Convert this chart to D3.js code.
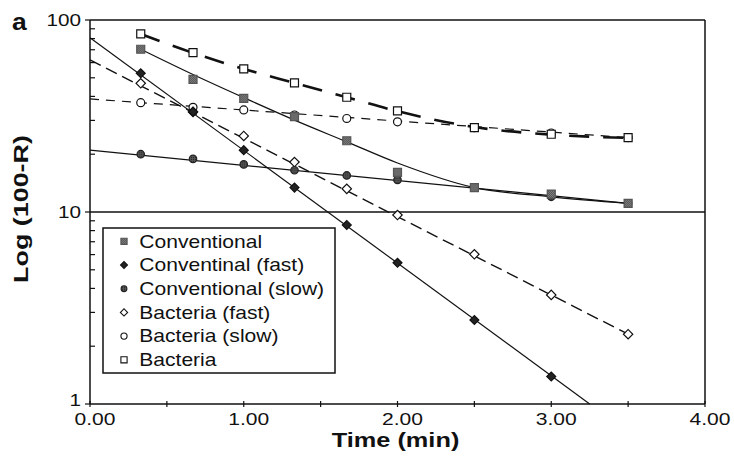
<!DOCTYPE html>
<html><head><meta charset="utf-8">
<script src="https://cdn.jsdelivr.net/npm/d3@7"></script>
<style>body{margin:0;background:#fff} svg{display:block}</style>
</head><body><svg id="c" width="734" height="464"></svg>
<script>
// ---- data ----
const times = [0.33, 0.67, 1.0, 1.33, 1.67, 2.0, 2.5, 3.0, 3.5];
const conventional     = [70.4, 49.1, 39.1, 31.4, 23.5, 16.1, 13.4, 12.4, 11.1];
const conventionalFast = [52.8, 33.3, 21.0, 13.4, 8.56, 5.44, 2.74, 1.39, null];
const conventionalSlow = [20.0, 18.9, 17.7, 16.5, 15.5, 14.7, 13.4, 12.0, 11.1];
const bacteriaFast     = [46.8, 33.2, 24.9, 18.2, 13.2, 9.64, 6.02, 3.70, 2.31];
const bacteriaSlow     = [37.1, 35.1, 34.0, 32.0, 30.7, 29.5, 27.5, 25.8, 24.4];
const bacteria         = [84.6, 67.6, 55.7, 47.1, 39.6, 33.6, 27.5, 25.4, 24.4];

// fitted lines
const convFitV     = [70.4, 52.0, 39.4, 30.1, 23.2, 18.0, 13.4, 12.0, 11.1];
const bactFitV     = [84.6, 67.4, 55.6, 47.0, 39.6, 33.5, 27.7, 25.3, 24.3];
const convFastFitT = [0, 3.25], convFastFitV = [80.9, 1.0];
const convSlowFitT = [0, 3.5],  convSlowFitV = [21.0, 11.1];
const bactFastFitT = [0, 3.5],  bactFastFitV = [61.9, 2.31];
const bactSlowFitT = [0, 3.5],  bactSlowFitV = [38.8, 24.4];

const xTickLabels = ["0.00", "1.00", "2.00", "3.00", "4.00"];
const yTickLabels = ["1", "10", "100"];
const legendLabels = ["Conventional", "Conventinal (fast)", "Conventional (slow)",
                      "Bacteria (fast)", "Bacteria (slow)", "Bacteria"];
const xTitle = "Time (min)", yTitle = "Log (100-R)", panelLabel = "a";

// ---- layout ----
const L = 90, R = 705, T = 20, B = 404;
const svg = d3.select("#c");
const x = d3.scaleLinear().domain([0, 4]).range([L, R]);
const y = d3.scaleLog().domain([1, 100]).range([B, T]);
const FONT = "'Liberation Sans', Arial, sans-serif";
const ink = "#111";

const defs = svg.append("defs");
const pat = defs.append("pattern").attr("id", "hatch").attr("width", 2).attr("height", 2)
  .attr("patternUnits", "userSpaceOnUse");
pat.append("rect").attr("width", 2).attr("height", 2).attr("fill", "#9a9a9a");
pat.append("rect").attr("width", 1).attr("height", 1).attr("fill", "#3a3a3a");
pat.append("rect").attr("x", 1).attr("y", 1).attr("width", 1).attr("height", 1).attr("fill", "#3a3a3a");
const pat2 = defs.append("pattern").attr("id", "hatch2").attr("width", 2).attr("height", 2)
  .attr("patternUnits", "userSpaceOnUse");
pat2.append("rect").attr("width", 2).attr("height", 2).attr("fill", "#555");
pat2.append("rect").attr("width", 1).attr("height", 1).attr("fill", "#222");

function stext(g, px, py, str, size, sx, anchor, weight, rot) {
  return g.append("text")
    .attr("transform", `translate(${px},${py})` + (rot ? ` rotate(${rot})` : "") + ` scale(${sx},1)`)
    .attr("font-family", FONT).attr("font-size", size)
    .attr("font-weight", weight || "normal").attr("text-anchor", anchor || "start")
    .attr("fill", ink).text(str);
}

// ---- frame, gridline ----
const frame = svg.append("g").attr("stroke", ink).attr("stroke-width", 1.5).attr("fill", "none");
frame.append("line").attr("x1", L).attr("x2", R).attr("y1", T).attr("y2", T);
frame.append("line").attr("x1", R).attr("x2", R).attr("y1", T).attr("y2", B);
frame.append("line").attr("x1", L).attr("x2", R).attr("y1", y(10)).attr("y2", y(10)).attr("stroke-width", 1.3);
frame.append("line").attr("x1", L).attr("x2", L).attr("y1", T).attr("y2", B);
frame.append("line").attr("x1", L).attr("x2", R).attr("y1", B).attr("y2", B);

// y ticks
y.ticks().forEach(v => {
  const major = Math.abs(Math.log10(v) - Math.round(Math.log10(v))) < 1e-9;
  frame.append("line").attr("y1", y(v)).attr("y2", y(v))
    .attr("x1", major ? L - 5 : L).attr("x2", major ? L : L + 5).attr("stroke-width", 1.2);
});
// x ticks
d3.range(0, 4.001, 0.5).forEach(v => {
  frame.append("line").attr("x1", x(v)).attr("x2", x(v)).attr("y1", B - 3).attr("y2", B + 3).attr("stroke-width", 1.2);
});

// tick labels (bottom-most y label kept clear of the x labels)
const lab = svg.append("g");
yTickLabels.forEach(s => stext(lab, L - 9, Math.min(y(+s) + 6, B + 1.5), s, 17, 1.22, "end"));
xTickLabels.forEach(s => stext(lab, x(+s) + 5, B + 21, s, 17, 1.24, "middle"));

// titles
stext(lab, 395.5, 446.5, xTitle, 19.5, 1.3, "middle", "bold");
stext(lab, 28, 209, yTitle, 21, 1.28, "middle", "bold", -90);
stext(lab, 12, 30, panelLabel, 23, 1.15, "start", "bold");

// ---- lines ----
const plot = svg.append("g");
const straight = d3.line().x(d => x(d[0])).y(d => y(d[1]));
const smooth = d3.line().x(d => x(d[0])).y(d => y(d[1])).curve(d3.curveMonotoneX);
function pairs(ts, vs) { return ts.map((t, i) => [t, vs[i]]); }

plot.append("path").attr("d", straight(pairs(convFastFitT, convFastFitV)))
  .attr("fill", "none").attr("stroke", ink).attr("stroke-width", 1.2);
plot.append("path").attr("d", straight(pairs(convSlowFitT, convSlowFitV)))
  .attr("fill", "none").attr("stroke", ink).attr("stroke-width", 1.2);
plot.append("path").attr("d", smooth(pairs(times, convFitV)))
  .attr("fill", "none").attr("stroke", ink).attr("stroke-width", 1.2);
plot.append("path").attr("d", straight(pairs(bactFastFitT, bactFastFitV)))
  .attr("fill", "none").attr("stroke", ink).attr("stroke-width", 1.4).attr("stroke-dasharray", "12,6");
plot.append("path").attr("d", straight(pairs(bactSlowFitT, bactSlowFitV)))
  .attr("fill", "none").attr("stroke", ink).attr("stroke-width", 1.2).attr("stroke-dasharray", "9,7");
plot.append("path").attr("d", smooth(pairs(times, bactFitV)))
  .attr("fill", "none").attr("stroke", ink).attr("stroke-width", 2.6).attr("stroke-dasharray", "20,14");

// ---- markers ----
const styles = [
  {type: d3.symbolSquare, rot: 0,  fill: "url(#hatch)",  stroke: "#555", size: 64},
  {type: d3.symbolSquare, rot: 45, fill: "#222",         stroke: "#111", size: 40},
  {type: d3.symbolCircle, rot: 0,  fill: "url(#hatch2)", stroke: "#222", size: 44},
  {type: d3.symbolSquare, rot: 45, fill: "#fff",         stroke: ink,    size: 44},
  {type: d3.symbolCircle, rot: 0,  fill: "#fff",         stroke: ink,    size: 50},
  {type: d3.symbolSquare, rot: 0,  fill: "#fff",         stroke: ink,    size: 64},
];
const seriesVals = [conventional, conventionalFast, conventionalSlow, bacteriaFast, bacteriaSlow, bacteria];
const order = [4, 3, 2, 1, 0, 5];
order.forEach(si => {
  const st = styles[si];
  const pts = times.map((t, i) => [t, seriesVals[si][i]]).filter(d => d[1] != null);
  plot.selectAll(null).data(pts).enter().append("path")
    .attr("transform", d => `translate(${x(d[0])},${y(d[1])}) rotate(${st.rot})`)
    .attr("d", d3.symbol().type(st.type).size(st.size))
    .attr("fill", st.fill).attr("stroke", st.stroke).attr("stroke-width", 1.2);
});

// ---- legend ----
const lg = svg.append("g");
lg.append("rect").attr("x", 103).attr("y", 228).attr("width", 232).attr("height", 145)
  .attr("fill", "#fff").attr("stroke", ink).attr("stroke-width", 1.5);
legendLabels.forEach((s, i) => {
  const cy = 241.3 + i * 23.7;
  const st = styles[i];
  lg.append("path").attr("transform", `translate(124,${cy}) rotate(${st.rot})`)
    .attr("d", d3.symbol().type(st.type).size(st.size * 0.6))
    .attr("fill", st.fill).attr("stroke", st.stroke).attr("stroke-width", 1.1);
  stext(lg, 139.3, cy + 6.3, s, 17.7, 1.19, "start");
});
</script></body></html>
